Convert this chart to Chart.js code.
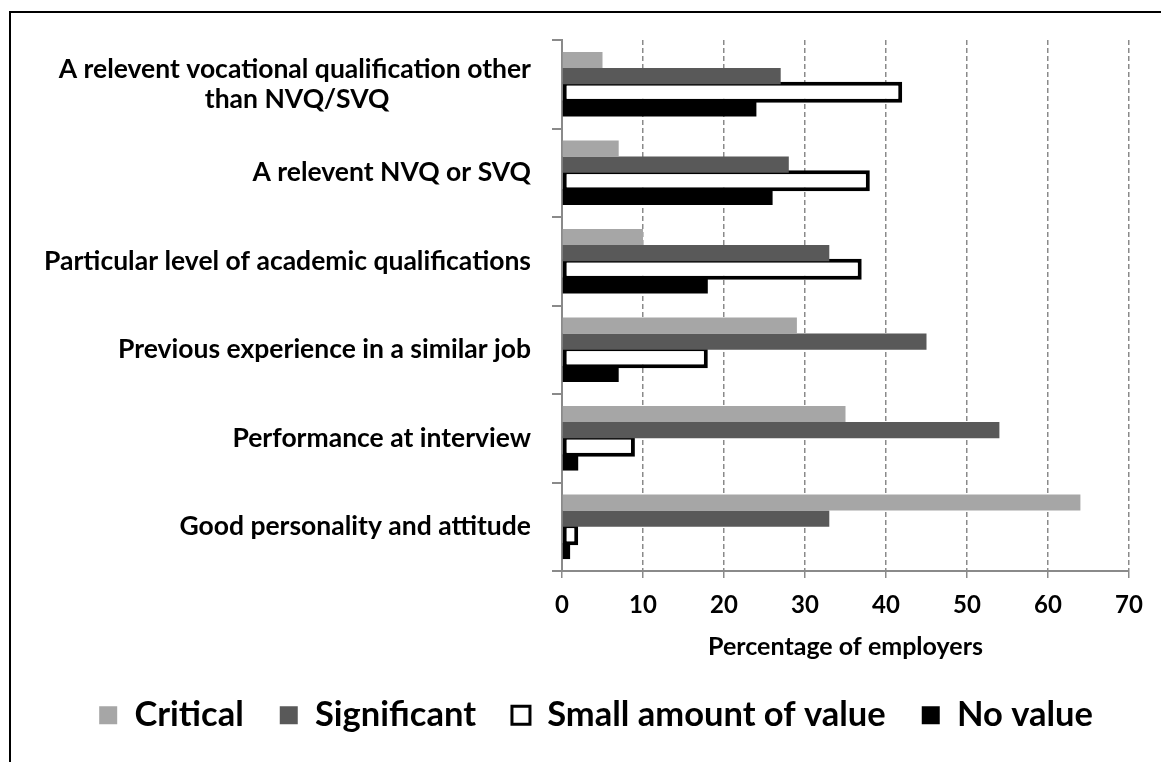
<!DOCTYPE html>
<html>
<head>
<meta charset="utf-8">
<script src="https://cdn.jsdelivr.net/npm/chart.js@4/dist/chart.umd.min.js"></script>
<style>
  html, body { margin: 0; padding: 0; background: #fff; overflow: hidden; }
  #wrap { position: relative; width: 1161px; height: 762px; }
  #frame { position: absolute; left: 9px; top: 11px; width: 1200px; height: 800px; border: 2px solid #000; box-sizing: border-box; }
  #c { position: absolute; left: 0; top: 0; }
</style>
</head>
<body>
<div id="wrap">
  <div id="frame"></div>
  <canvas id="c" width="1161" height="762"></canvas>
</div>
<script>
// ---- data ----
const categories = [
  ["A relevent vocational qualification other", "than NVQ/SVQ"],
  "A relevent NVQ or SVQ",
  "Particular level of academic qualifications",
  "Previous experience in a similar job",
  "Performance at interview",
  "Good personality and attitude"
];
const seriesNames = ["Critical", "Significant", "Small amount of value", "No value"];
const critical    = [5, 7, 10, 29, 35, 64];
const significant = [27, 28, 33, 45, 54, 33];
const smallValue  = [42, 38, 37, 18, 9, 2];
const noValue     = [24, 26, 18, 7, 2, 1];
const xTicks = [0, 10, 20, 30, 40, 50, 60, 70];
const xTitle = "Percentage of employers";

const FONT = "Lato";
const labelFont = { family: FONT, size: 26.5, weight: "bold", lineHeight: 1.12 };

// pad shorter lines of multi-line labels so they appear centred under the longest line
const mctx = document.createElement("canvas").getContext("2d");
mctx.font = "bold " + labelFont.size + "px " + FONT;
function centreLines(lbl) {
  if (!Array.isArray(lbl)) return lbl;
  const widths = lbl.map(l => mctx.measureText(l).width);
  const maxW = Math.max(...widths);
  const sp = mctx.measureText(" ").width;
  return lbl.map((l, i) => l + " ".repeat(Math.round((maxW - widths[i]) / 2 / sp)));
}

const PLOT_LEFT = 562;
const LEFT_PAD = 10;

new Chart(document.getElementById("c"), {
  type: "bar",
  data: {
    labels: categories,
    datasets: [
      { label: seriesNames[0], data: critical, backgroundColor: "#a6a6a6", borderWidth: 0 },
      { label: seriesNames[1], data: significant, backgroundColor: "#595959", borderWidth: 0 },
      { label: seriesNames[2], data: smallValue, backgroundColor: "#ffffff", borderColor: "#000000", borderWidth: 4, borderSkipped: false, barPercentage: 1.3 },
      { label: seriesNames[3], data: noValue, backgroundColor: "#000000", borderWidth: 0 }
    ]
  },
  options: {
    indexAxis: "y",
    responsive: false,
    animation: false,
    devicePixelRatio: 1,
    layout: { padding: { top: 40, right: 32, bottom: 30, left: LEFT_PAD } },
    datasets: { bar: { barPercentage: 1.0, categoryPercentage: 0.73 } },
    scales: {
      x: {
        min: 0, max: 70,
        afterBuildTicks(scale) { scale.ticks = xTicks.map(v => ({ value: v })); },
        grid: { color: "#8a8a8a", lineWidth: 1.5, tickLength: 7, tickColor: "#8a8a8a", drawTicks: true },
        border: { display: true, color: "#8a8a8a", width: 2, dash: [5, 3] },
        ticks: { color: "#000", font: { family: FONT, size: 24, weight: "bold", lineHeight: 1.0 }, padding: 15 },
        title: { display: true, text: xTitle, color: "#000", font: { family: FONT, size: 25, weight: "bold", lineHeight: 1.2 }, padding: { top: 0, bottom: 0 } }
      },
      y: {
        afterFit(scale) { scale.width = PLOT_LEFT - LEFT_PAD; },
        grid: { drawOnChartArea: false, drawTicks: true, tickLength: 10, color: "#8a8a8a", lineWidth: 2, offset: true },
        border: { display: true, color: "#8a8a8a", width: 2 },
        ticks: {
          color: "#000", font: labelFont, padding: 21, autoSkip: false,
          callback(value) { return centreLines(categories[value]); }
        }
      }
    },
    plugins: {
      legend: {
        position: "bottom",
        align: "end",
        maxHeight: 70,
        labels: {
          color: "#000",
          font: { family: FONT, size: 34.5, weight: "bold" },
          boxWidth: 18, boxHeight: 18, padding: 36,
          generateLabels(chart) {
            return chart.data.datasets.map((ds, i) => ({
              text: ds.label,
              fillStyle: ds.backgroundColor,
              strokeStyle: "#000",
              lineWidth: i === 2 ? 3 : 0,
              datasetIndex: i,
              hidden: false
            }));
          }
        }
      },
      tooltip: { enabled: false }
    }
  }
});
</script>
</body>
</html>
